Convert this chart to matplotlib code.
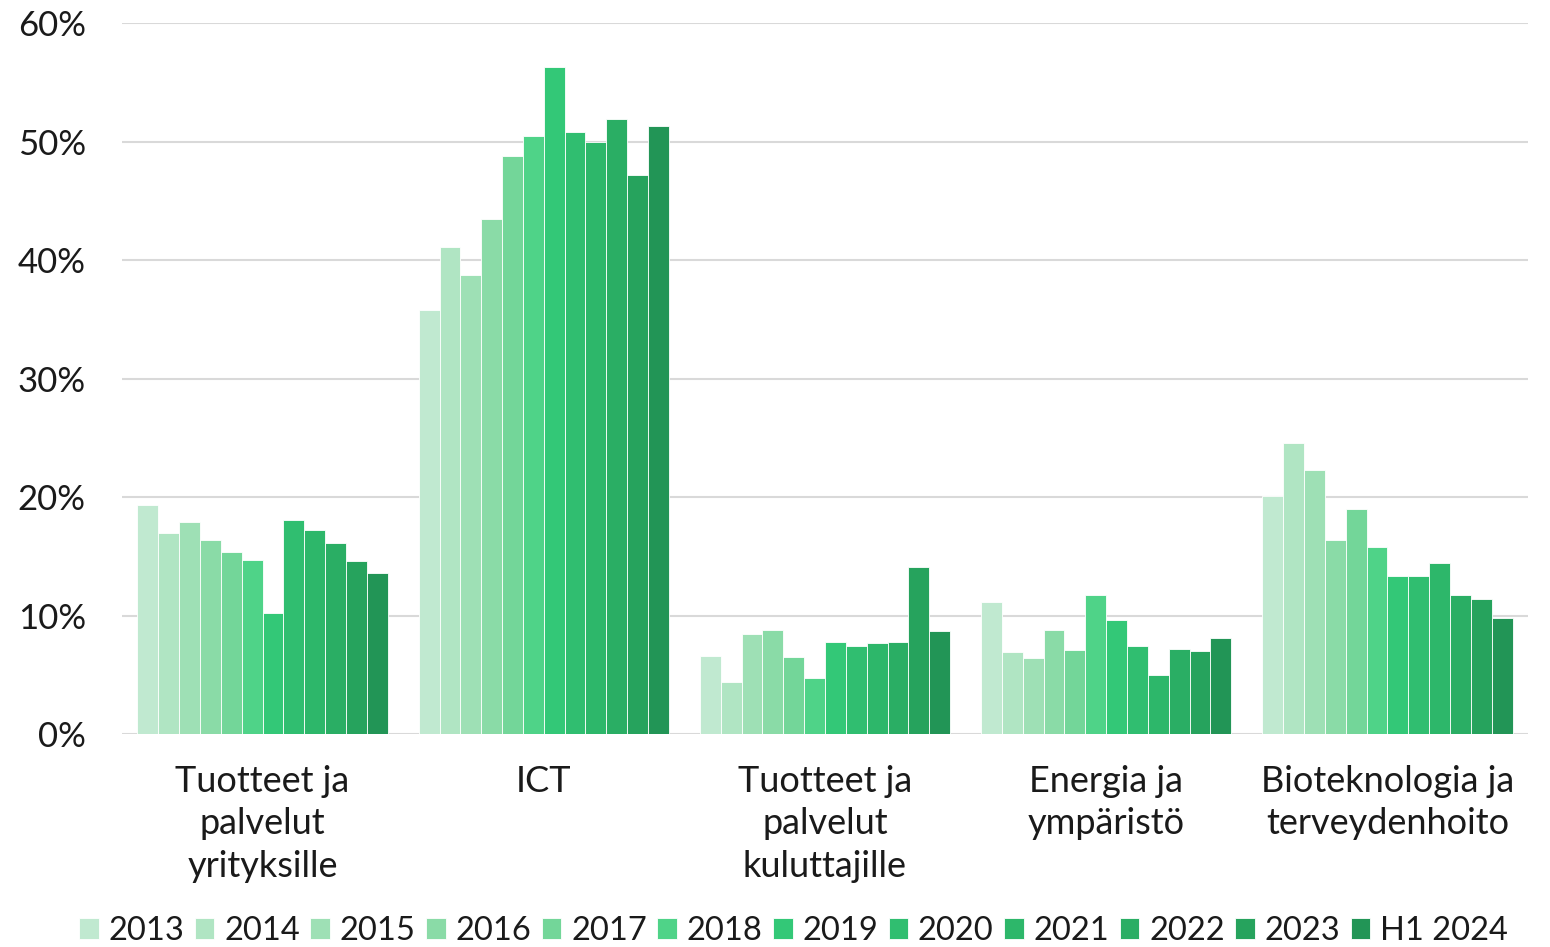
import numpy as np
import matplotlib.pyplot as plt
from matplotlib.ticker import FuncFormatter

categories = ["Tuotteet ja\npalvelut\nyrityksille", "ICT", "Tuotteet ja\npalvelut\nkuluttajille",
              "Energia ja\nympäristö", "Bioteknologia ja\nterveydenhoito"]
years = ["2013", "2014", "2015", "2016", "2017", "2018", "2019", "2020", "2021", "2022", "2023", "H1 2024"]

# share (%) per category, one list per year
v2013 = [19.3, 35.8, 6.6, 11.1, 20.1]
v2014 = [17.0, 41.1, 4.4, 6.9, 24.6]
v2015 = [17.9, 38.7, 8.4, 6.4, 22.3]
v2016 = [16.4, 43.5, 8.75, 8.75, 16.4]
v2017 = [15.4, 48.8, 6.5, 7.1, 19.0]
v2018 = [14.7, 50.5, 4.7, 11.7, 15.8]
v2019 = [10.2, 56.3, 7.8, 9.65, 13.3]
v2020 = [18.1, 50.8, 7.4, 7.4, 13.3]
v2021 = [17.2, 50.0, 7.7, 4.95, 14.4]
v2022 = [16.1, 51.9, 7.76, 7.2, 11.7]
v2023 = [14.6, 47.2, 14.1, 7.0, 11.4]
vH1_2024 = [13.6, 51.3, 8.7, 8.1, 9.8]
values = [v2013, v2014, v2015, v2016, v2017, v2018, v2019, v2020, v2021, v2022, v2023, vH1_2024]

colors = ["#c0e9d0", "#b0e5c3", "#9ee0b5", "#8adba7", "#73d699", "#4fd388",
          "#33c877", "#30be70", "#2db76a", "#2aae64", "#26a35d", "#229556"]

plt.rcParams["font.family"] = ["Lato", "DejaVu Sans"]
plt.rcParams["text.color"] = "#1a1a1a"

fig = plt.figure(figsize=(15.5, 9.47), dpi=100)
ax = fig.add_axes([0.0787, 0.2249, 0.9071, 0.7508])

x = np.arange(len(categories))
n = len(years)
w = 0.89 / n
for i, (yr, vals) in enumerate(zip(years, values)):
    ax.bar(x - 0.445 + w * (i + 0.5), vals, width=w, color=colors[i],
           edgecolor="#ffffff", linewidth=0.6, label=yr, zorder=3)

ax.set_xlim(-0.5, len(categories) - 0.5)
ax.set_ylim(0, 60)
ax.set_yticks(range(0, 61, 10))
ax.yaxis.set_major_formatter(FuncFormatter(lambda v, p: f"{v:.0f}%"))
ax.grid(axis="y", color="#d9d9d9", linewidth=1.5, zorder=0)
for s in ax.spines.values():
    s.set_visible(False)
ax.tick_params(axis="y", length=0, pad=26, labelsize=25, labelcolor="#1a1a1a")
ax.set_xticks(x)
ax.set_xticklabels(categories, fontsize=26, linespacing=1.36)
ax.tick_params(axis="x", length=0, pad=22, labelcolor="#1a1a1a")

fig.legend(loc="lower center", bbox_to_anchor=(0.512, -0.03), ncol=n, frameon=False,
           fontsize=23.5, handlelength=0.6, handleheight=0.6, handletextpad=0.3,
           columnspacing=0.32)

fig.savefig("out.png", dpi=100)
